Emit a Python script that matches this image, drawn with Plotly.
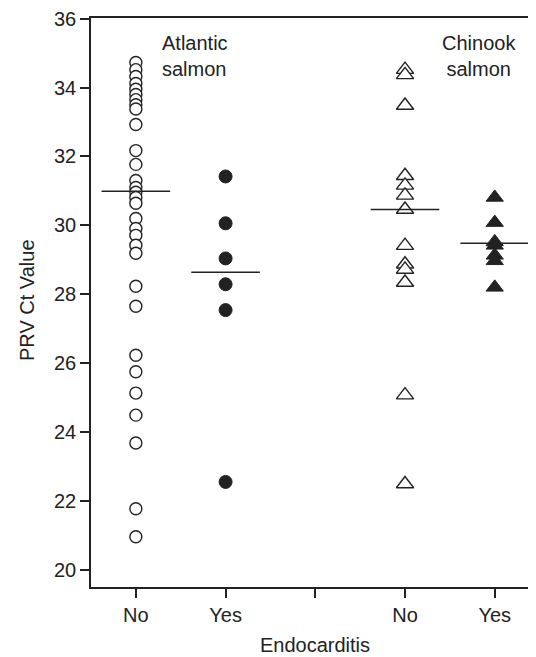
import plotly.graph_objects as go

# ---- data ----
group_positions = [1, 2, 4, 5]
tick_positions = [1, 2, 3, 4, 5]
tick_labels = ["No", "Yes", "", "No", "Yes"]

atlantic_no = [34.73, 34.52, 34.32, 34.12, 33.95, 33.8, 33.65, 33.5, 33.38, 32.93,
               32.17, 31.77, 31.30, 31.10, 30.96, 30.81, 30.64, 30.20, 29.91, 29.71,
               29.42, 29.19, 28.23, 27.65, 26.23, 25.75, 25.13, 24.49, 23.68, 21.77, 20.96]
atlantic_yes = [31.42, 30.06, 29.04, 28.29, 27.54, 22.55]
chinook_no = [34.52, 34.37, 33.48, 31.44, 31.16, 30.87, 30.46, 29.41, 28.87, 28.72,
              28.34, 25.07, 22.49]
chinook_yes = [30.81, 30.08, 29.52, 29.42, 29.13, 28.97, 28.20]
medians = [30.99, 28.64, 30.46, 29.48]

y_ticks = [20, 22, 24, 26, 28, 30, 32, 34, 36]

FONT = "Liberation Sans, Arial, sans-serif"
INK = "#222222"
FS = 20

# page has an 8px body margin; the figure is sized so the page matches 536x657
W, H = 528, 649
L, R, T, B = 83, 0, 10, 70
PW, PH = W - L - R, H - T - B

fig = go.Figure()

def add(xpos, vals, symbol, filled, size, lw):
    fig.add_trace(go.Scatter(
        x=[xpos] * len(vals), y=vals, mode="markers",
        marker=dict(symbol=symbol, size=size,
                    color=INK if filled else "white",
                    line=dict(color=INK, width=lw)),
        showlegend=False, hoverinfo="y"))

add(group_positions[0], atlantic_no, "circle", False, 12, 1.4)
add(group_positions[1], atlantic_yes, "circle", True, 13, 1)
add(group_positions[2], chinook_no, "triangle-up", False, 15, 1.4)
add(group_positions[3], chinook_yes, "triangle-up", True, 15, 1)

# median lines (line-ew width is 1.4 x size)
fig.add_trace(go.Scatter(
    x=group_positions, y=medians, mode="markers",
    marker=dict(symbol="line-ew", size=49, color=INK, line=dict(color=INK, width=1.6)),
    showlegend=False, hoverinfo="y"))

def px_to_paper(px, py):
    # page pixel -> paper coords
    return (px - 8 - L) / PW, (H - B - (py - 8)) / PH

ex, ey = px_to_paper(315, 645)
yx, yy = px_to_paper(27, 300)

fig.update_layout(
    width=W, height=H,
    margin=dict(l=L, r=R, t=T, b=B),
    paper_bgcolor="white", plot_bgcolor="white",
    font=dict(family=FONT, size=FS, color=INK),
    xaxis=dict(range=[0.5, 5.46], tickvals=tick_positions, ticktext=tick_labels,
               showgrid=False, zeroline=False, showline=True, linecolor=INK, linewidth=1.5,
               mirror=True, ticks="outside", ticklen=9, tickwidth=1.5, tickcolor=INK,
               tickfont=dict(size=FS), ticklabeloverflow="allow"),
    yaxis=dict(range=[19.5, 36.02], tickvals=y_ticks,
               showgrid=False, zeroline=False, showline=True, linecolor=INK, linewidth=1.5,
               ticks="outside", ticklen=9, tickwidth=1.5, tickcolor=INK,
               tickfont=dict(size=FS), ticklabeloverflow="allow"),
    annotations=[
        dict(text="Atlantic<br>salmon", x=1.27, y=34.92, xref="x", yref="y",
             xanchor="left", yanchor="middle", showarrow=False, align="left",
             font=dict(size=FS, family=FONT, color=INK)),
        dict(text="Chinook<br>salmon", x=4.83, y=34.92, xref="x", yref="y",
             xanchor="center", yanchor="middle", showarrow=False, align="center",
             font=dict(size=FS, family=FONT, color=INK)),
        dict(text="Endocarditis", x=ex, y=ey, xref="paper", yref="paper",
             xanchor="center", yanchor="middle", showarrow=False,
             font=dict(size=FS, family=FONT, color=INK)),
        dict(text="PRV Ct Value", x=yx, y=yy, xref="paper", yref="paper",
             xanchor="center", yanchor="middle", textangle=-90, showarrow=False,
             font=dict(size=FS, family=FONT, color=INK)),
    ],
)

fig.write_html("out.html")
